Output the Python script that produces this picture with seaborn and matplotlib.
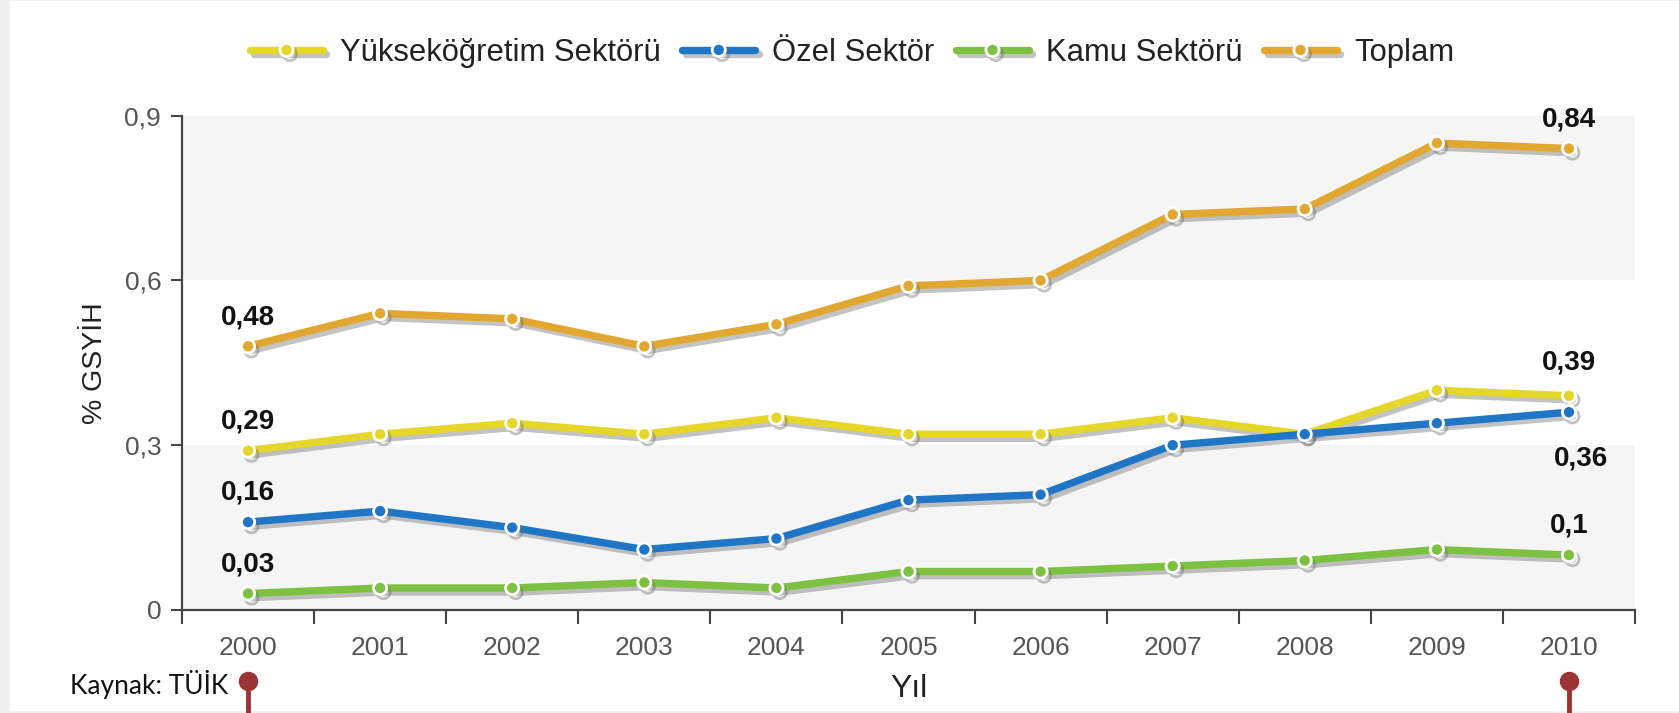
import matplotlib
matplotlib.use("Agg")
import matplotlib.pyplot as plt
import matplotlib.patheffects as pe
import matplotlib.transforms as mtransforms
from matplotlib.patches import Rectangle
import seaborn as sns
import pandas as pd

# ---- data ----
years = ["2000", "2001", "2002", "2003", "2004", "2005", "2006", "2007", "2008", "2009", "2010"]
yuksekogretim = [0.29, 0.32, 0.34, 0.32, 0.35, 0.32, 0.32, 0.35, 0.32, 0.40, 0.39]
ozel = [0.16, 0.18, 0.15, 0.11, 0.13, 0.20, 0.21, 0.30, 0.32, 0.34, 0.36]
kamu = [0.03, 0.04, 0.04, 0.05, 0.04, 0.07, 0.07, 0.08, 0.09, 0.11, 0.10]
toplam = [0.48, 0.54, 0.53, 0.48, 0.52, 0.59, 0.60, 0.72, 0.73, 0.85, 0.84]
series_names = ["Yükseköğretim Sektörü", "Özel Sektör", "Kamu Sektörü", "Toplam"]
series_values = [yuksekogretim, ozel, kamu, toplam]
colors = ["#e5d62a", "#1f75c6", "#7cc142", "#e1a731"]
y_ticks = [0, 0.3, 0.6, 0.9]
y_tick_labels = ["0", "0,3", "0,6", "0,9"]
# end labels: (series index, point index, text, placement)
point_labels = [
    (3, 0, "0,48", "above"), (0, 0, "0,29", "above"), (1, 0, "0,16", "above"), (2, 0, "0,03", "above"),
    (3, 10, "0,84", "above"), (0, 10, "0,39", "above"), (1, 10, "0,36", "below"), (2, 10, "0,1", "above"),
]

sns.set_style("white")
plt.rcParams["font.family"] = ["Liberation Sans", "DejaVu Sans"]

fig = plt.figure(figsize=(16.79, 7.13), dpi=100)
# light frame of the page
fig.patches.append(Rectangle((0, 0), 1, 1, transform=fig.transFigure, color="#efefef", zorder=-10))
fig.patches.append(Rectangle((10 / 1679, 3 / 713), 1, 1 - 4 / 713, transform=fig.transFigure,
                             color="white", zorder=-9))
ax = fig.add_axes([0.1084, 0.1445, 0.8654, 0.6934])
ax.set_facecolor("none")

x_idx = list(range(len(years)))
frames = []
for name, vals in zip(series_names, series_values):
    frames.append(pd.DataFrame({"x": x_idx, "y": vals, "seri": name}))
df = pd.concat(frames, ignore_index=True)

shadow = [pe.SimpleLineShadow(offset=(2.5, -3), shadow_color="#6a6a6a", alpha=0.4), pe.Normal()]
for name, col in zip(series_names, colors):
    sub = df[df["seri"] == name]
    sns.lineplot(data=sub, x="x", y="y", ax=ax, color=col, linewidth=5.3, marker="o",
                 markersize=9.5, markerfacecolor=col, markeredgecolor="white",
                 markeredgewidth=2, label=name, zorder=3)
for ln in ax.lines:
    ln.set_path_effects(shadow)

# background bands
ax.axhspan(y_ticks[0], y_ticks[1], color="#f5f5f5", zorder=0, lw=0)
ax.axhspan(y_ticks[2], y_ticks[3], color="#f5f5f5", zorder=0, lw=0)

ax.set_xlim(-0.5, len(years) - 0.5)
ax.set_ylim(0, 0.9)
ax.set_xticks(x_idx)
ax.set_xticklabels(years)
ax.set_xticks([i - 0.5 for i in range(len(years) + 1)], minor=True)
ax.set_yticks(y_ticks)
ax.set_yticklabels(y_tick_labels)
ax.tick_params(axis="x", which="major", length=0, pad=19, labelsize=19, labelcolor="#555555")
ax.tick_params(axis="x", which="minor", length=10, width=1.5, color="#444444", direction="out")
ax.tick_params(axis="y", length=8, width=1.5, color="#444444", direction="out", pad=7,
               labelsize=19, labelcolor="#555555")
ax.xaxis.set_ticks_position("bottom")
ax.yaxis.set_ticks_position("left")

for s in ["top", "right"]:
    ax.spines[s].set_visible(False)
for s in ["left", "bottom"]:
    ax.spines[s].set_color("#444444")
    ax.spines[s].set_linewidth(1.6)

ax.set_xlabel("Yıl", fontsize=23, color="#222222", va="top")
ax.xaxis.set_label_coords(0.5, -0.13)
ax.set_ylabel("% GSYİH", fontsize=20.5, color="#222222")
ax.yaxis.set_label_coords(-0.051, 0.5)

for si, pi, txt, place in point_labels:
    yv = series_values[si][pi]
    if place == "above":
        off = (0, 21 if not (si == 0 and pi == 10) else 24)
    else:
        off = (9, -33)
    ax.annotate(txt, (x_idx[pi], yv), xytext=off, textcoords="offset points",
                ha="center", va="center", fontsize=20, fontweight="bold", color="#111111",
                zorder=5)

# legend
handles, labels = ax.get_legend_handles_labels()
if ax.legend_:
    ax.legend_.remove()
leg = fig.legend(handles, labels, loc="center", bbox_to_anchor=(0.5075, 0.926), ncol=4,
                 frameon=False, fontsize=22.3, handlelength=2.35, handletextpad=0.55,
                 columnspacing=0.7, numpoints=1)
for t in leg.get_texts():
    t.set_color("#222222")

# source text
fig.text(70 / 1679, 19 / 713, "Kaynak: TÜİK", fontsize=19, family=["Lato", "DejaVu Sans"],
         color="#111111", ha="left", va="baseline")

# red pins under the first and last year
blend = mtransforms.blended_transform_factory(ax.transData, fig.transFigure)
for pi in (x_idx[0], x_idx[-1]):
    ax.plot([pi, pi], [0, 0.045], transform=blend, color="#9b3535", lw=3.5, clip_on=False,
            solid_capstyle="butt", zorder=6)
    ax.plot([pi], [0.045], transform=blend, marker="o", markersize=13, color="#9b3535",
            clip_on=False, zorder=6)

fig.savefig("out.png", dpi=100)
